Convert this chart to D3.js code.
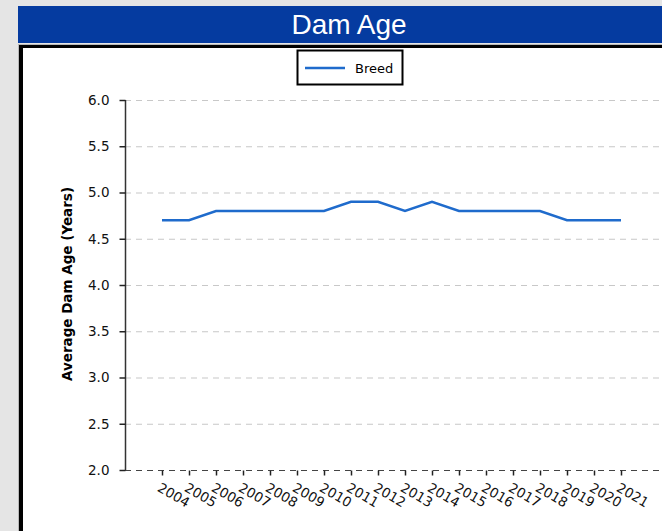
<!DOCTYPE html>
<html>
<head>
<meta charset="utf-8">
<script src="https://cdn.jsdelivr.net/npm/d3@7"></script>
<style>
  html, body { margin: 0; padding: 0; background: #e5e5e5; }
  svg { display: block; }
</style>
</head>
<body>
<svg id="chart" width="662" height="531"></svg>
<script>
// Yearly averages for the breed
const years = [2004, 2005, 2006, 2007, 2008, 2009, 2010, 2011, 2012, 2013, 2014, 2015, 2016, 2017, 2018, 2019, 2020, 2021];
const breedAge = [4.7, 4.7, 4.8, 4.8, 4.8, 4.8, 4.8, 4.9, 4.9, 4.8, 4.9, 4.8, 4.8, 4.8, 4.8, 4.7, 4.7, 4.7];
const yTicks = [2.0, 2.5, 3.0, 3.5, 4.0, 4.5, 5.0, 5.5, 6.0];
const seriesName = "Breed";
const titleText = "Dam Age";
const yLabel = "Average Dam Age (Years)";

const svg = d3.select("#chart");
const W = 662, H = 531;

// Header band
svg.append("rect").attr("x", 18).attr("y", 6).attr("width", W - 18).attr("height", 37).attr("fill", "#053ba0");
svg.append("text").attr("x", 349).attr("y", 34).attr("text-anchor", "middle")
  .attr("font-family", "Liberation Sans, Arial, sans-serif").attr("font-size", 28)
  .attr("fill", "#ffffff").text(titleText);

// Panel with heavy black frame
svg.append("rect").attr("x", 18).attr("y", 44).attr("width", W - 18).attr("height", H - 44).attr("fill", "#b8b8b8");
svg.append("rect").attr("x", 19).attr("y", 45).attr("width", W - 19).attr("height", H - 45).attr("fill", "#000");
svg.append("rect").attr("x", 23).attr("y", 48).attr("width", W - 23).attr("height", H - 48).attr("fill", "#fff");

const x = d3.scaleLinear().domain([2004, 2021]).range([162, 621]);
const y = d3.scaleLinear().domain([2, 6]).range([470, 100]);
const plotLeft = 125, plotRight = 660;

// Dashed horizontal gridlines
svg.append("g").selectAll("line").data(yTicks).join("line")
  .attr("x1", plotLeft).attr("x2", plotRight)
  .attr("y1", d => y(d) + 0.5).attr("y2", d => y(d) + 0.5)
  .attr("stroke", d => d === 2 ? "#444" : "#c8c8c8")
  .attr("stroke-width", 1.2)
  .attr("stroke-dasharray", "6,5");

// Y axis
const yAxis = d3.axisLeft(y).tickValues(yTicks).tickFormat(d3.format(".1f")).tickSize(6).tickPadding(10);
const gy = svg.append("g").attr("transform", `translate(${plotLeft + 0.5},0)`).call(yAxis);
gy.select(".domain").attr("stroke", "#333").attr("stroke-width", 1.5).attr("d", `M0,${y(6)}V${y(2)}`);
gy.selectAll(".tick line").attr("stroke", "#222").attr("stroke-width", 1.5);
gy.selectAll(".tick text").attr("font-family", "DejaVu Sans, sans-serif").attr("font-size", 13.5).attr("fill", "#111");

// X axis
const xAxis = d3.axisBottom(x).tickValues(years).tickFormat(d3.format("d")).tickSize(5).tickPadding(0);
const gx = svg.append("g").attr("transform", `translate(0,${y(2) + 0.5})`).call(xAxis);
gx.select(".domain").remove();
gx.selectAll(".tick line").attr("stroke", "#222").attr("stroke-width", 1.5);
gx.selectAll(".tick text")
  .attr("font-family", "DejaVu Sans, sans-serif").attr("font-size", 13.5).attr("fill", "#111")
  .attr("text-anchor", "start").attr("dy", 0).attr("y", 0)
  .attr("transform", "translate(-6,20) rotate(30)");

// Y axis title
svg.append("text")
  .attr("transform", `translate(72,284) rotate(-90)`)
  .attr("text-anchor", "middle")
  .attr("font-family", "DejaVu Sans, sans-serif").attr("font-size", 13.5).attr("font-weight", "bold")
  .attr("fill", "#000").text(yLabel);

// Series line
const line = d3.line().x((d, i) => x(years[i])).y(d => y(d));
svg.append("path").datum(breedAge)
  .attr("d", line).attr("fill", "none")
  .attr("stroke", "#1f6bcc").attr("stroke-width", 2.5).attr("stroke-linejoin", "miter");

// Legend
const lg = svg.append("g");
lg.append("rect").attr("x", 297.5).attr("y", 50.5).attr("width", 105).attr("height", 34)
  .attr("fill", "#fff").attr("stroke", "#000").attr("stroke-width", 2);
lg.append("line").attr("x1", 305).attr("x2", 345).attr("y1", 68).attr("y2", 68)
  .attr("stroke", "#1f6bcc").attr("stroke-width", 2.5);
lg.append("text").attr("x", 355).attr("y", 73)
  .attr("font-family", "DejaVu Sans, sans-serif").attr("font-size", 13).attr("fill", "#000").text(seriesName);
</script>
</body>
</html>
